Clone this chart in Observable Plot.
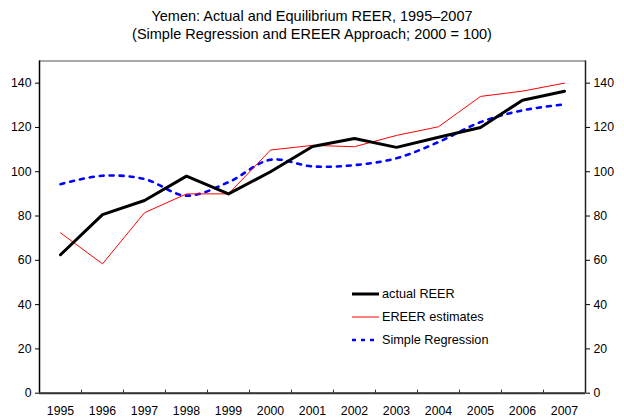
<!DOCTYPE html>
<html>
<head>
<meta charset="utf-8">
<script src="https://cdn.jsdelivr.net/npm/d3@7"></script>
<script src="https://cdn.jsdelivr.net/npm/@observablehq/plot@0.6"></script>
<style>
  body { margin: 0; background: #fff; font-family: "Liberation Sans", Arial, sans-serif; }
  #wrap { position: relative; width: 624px; height: 419px; }
  #title { height: 50px; box-sizing: border-box; padding-top: 7px; text-align: center; font-size: 14.5px; line-height: 18px; color: #000; }
  #legend { position: absolute; left: 352px; top: 282px; font-size: 12.7px; color: #000; }
  .row { display: flex; align-items: center; height: 23px; }
  .row svg { margin-right: 3px; }
</style>
</head>
<body>
<div id="wrap">
  <div id="title">Yemen: Actual and Equilibrium REER, 1995–2007<br>(Simple Regression and EREER Approach; 2000 = 100)</div>
  <div id="chart"></div>
  <div id="legend"></div>
</div>
<script>
const years = [1995,1996,1997,1998,1999,2000,2001,2002,2003,2004,2005,2006,2007];
const actualREER = [62.5,80.6,87.0,98.0,90.0,100.0,111.4,115.0,111.0,115.6,120.0,132.3,136.3];
const ereerEstimates = [72.4,58.4,81.5,90.0,90.0,109.8,111.9,111.3,116.4,120.3,134.0,136.4,140.0];
const simpleRegression = [94.4,98.2,96.7,89.2,95.3,105.4,102.4,103.0,106.1,113.4,122.4,127.7,130.4];
const yTicks = [0,20,40,60,80,100,120,140];
const seriesNames = ["actual REER","EREER estimates","Simple Regression"];

const mk = (vals) => years.map((y,i) => ({year: y, value: vals[i]}));
const boundaries = years.slice(0,-1).map(y => y + 0.5);

const chart = Plot.plot({
  width: 624,
  height: 369,
  marginLeft: 39,
  marginRight: 39,
  marginTop: 10.5,
  marginBottom: 26.3,
  style: {fontFamily: "'Liberation Sans', Arial, sans-serif", fontSize: "12px", color: "#000"},
  x: {domain: [1994.5, 2007.5]},
  y: {domain: [0, 150]},
  marks: [
    Plot.frame({stroke: "#555", strokeWidth: 1}),
    Plot.axisY({anchor: "left", ticks: yTicks, tickSize: 4, tickPadding: 4, label: null, fontSize: 12.3}),
    Plot.axisY({anchor: "right", ticks: yTicks, tickSize: 4, tickPadding: 4, label: null, fontSize: 12.3}),
    Plot.axisX({ticks: years, tickSize: 0, tickPadding: 13, tickFormat: d => String(d), label: null, fontSize: 12.3}),
    Plot.ruleX(boundaries, {x: d => d, y1: 0, y2: 1.4, stroke: "#333", strokeWidth: 1}),
    Plot.ruleX([1994.5], {stroke: "#000", strokeWidth: 1.5}),
    Plot.ruleX([2007.5], {stroke: "#222", strokeWidth: 1.5}),
    Plot.ruleY([0], {stroke: "#333", strokeWidth: 2}),
    Plot.line(mk(simpleRegression), {x: "year", y: "value", stroke: "#0000ff", strokeWidth: 2.6, strokeDasharray: "4,6", curve: "catmull-rom"}),
    Plot.line(mk(ereerEstimates), {x: "year", y: "value", stroke: "#ff0000", strokeWidth: 1}),
    Plot.line(mk(actualREER), {x: "year", y: "value", stroke: "#000", strokeWidth: 3})
  ]
});
document.getElementById("chart").appendChild(chart);

const styles = [
  {stroke: "#000", width: 3, dash: null},
  {stroke: "#ff0000", width: 1, dash: null},
  {stroke: "#0000ff", width: 2.6, dash: "4,5"}
];
const legend = document.getElementById("legend");
seriesNames.forEach((name, i) => {
  const s = styles[i];
  const row = document.createElement("div");
  row.className = "row";
  row.innerHTML = `<svg width="27" height="6"><line x1="0" y1="3" x2="27" y2="3" stroke="${s.stroke}" stroke-width="${s.width}" ${s.dash ? `stroke-dasharray="${s.dash}"` : ""}/></svg><span>${name}</span>`;
  legend.appendChild(row);
});
</script>
</body>
</html>
